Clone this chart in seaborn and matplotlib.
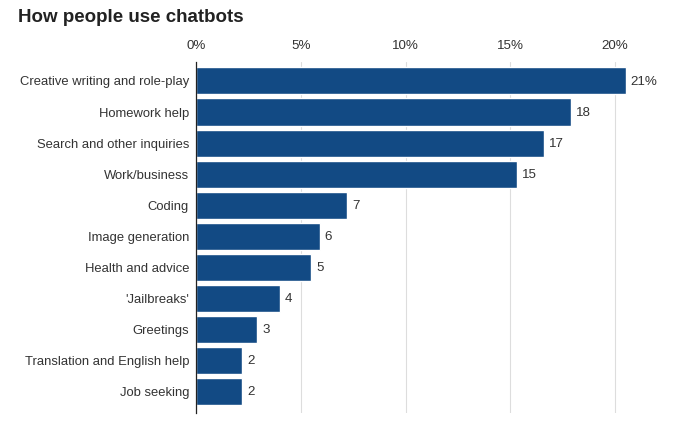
import pandas as pd
import numpy as np
import matplotlib
matplotlib.use('Agg')
import matplotlib.pyplot as plt
import seaborn as sns

# Data (share of conversations, %)
categories = ['Creative writing and role-play', 'Homework help', 'Search and other inquiries',
              'Work/business', 'Coding', 'Image generation', 'Health and advice',
              "'Jailbreaks'", 'Greetings', 'Translation and English help', 'Job seeking']
shares = [20.5, 17.9, 16.6, 15.3, 7.2, 5.9, 5.5, 4.0, 2.9, 2.2, 2.2]
value_labels = ['21%', '18', '17', '15', '7', '6', '5', '4', '3', '2', '2']
tick_values = [0, 5, 10, 15, 20]
tick_labels = ['0%', '5%', '10%', '15%', '20%']

sns.set_style("white")
plt.rcParams['font.family'] = ['Liberation Sans', 'DejaVu Sans']

bar_color = '#124a84'
text_color = '#333333'

df = pd.DataFrame({'category': categories, 'share': shares})

fig = plt.figure(figsize=(6.79, 4.29), dpi=100)
ax = fig.add_axes([196/679, 1 - 413/429, (657 - 196)/679, (413 - 62)/429])

sns.barplot(data=df, x='share', y='category', orient='h', color=bar_color,
            width=0.87, saturation=1, ax=ax, zorder=3)

ax.set_xlim(0, 22)
ax.set_ylim(10.69, -0.61)
ax.set_xticks(tick_values)
ax.set_xticklabels(tick_labels)
ax.xaxis.tick_top()
ax.tick_params(axis='x', length=0, pad=7, labelsize=9.6, labelcolor=text_color)
ax.tick_params(axis='y', length=0, pad=5, labelsize=9.4, labelcolor=text_color)
ax.set_xlabel('')
ax.set_ylabel('')
ax.grid(axis='x', color='#dddddd', linewidth=0.8, zorder=0)
for s in ['top', 'right', 'bottom']:
    ax.spines[s].set_visible(False)
ax.spines['left'].set_color('#222222')
ax.spines['left'].set_linewidth(0.9)
ax.spines['left'].set_zorder(4)

for i, (v, lab) in enumerate(zip(shares, value_labels)):
    ax.text(v + 0.25, i + 0.03, lab, va='center', ha='left', fontsize=9.6, color=text_color)

fig.text(18/679, 1 - 18/429, 'How people use chatbots', fontsize=13.5, fontweight='bold',
         color='#222222', va='center', ha='left')

plt.savefig('out.png', dpi=100)
plt.close()
